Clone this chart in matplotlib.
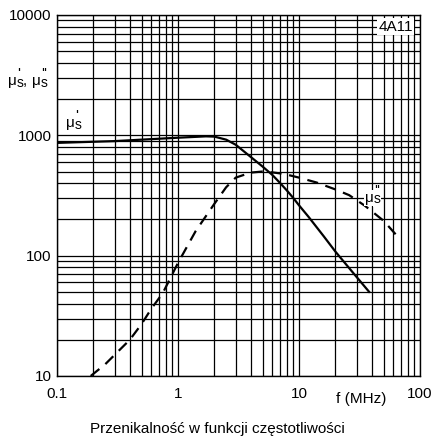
import numpy as np
import matplotlib.pyplot as plt
from matplotlib.ticker import FixedLocator, LogLocator, NullFormatter

plt.rcParams['font.family'] = ['Liberation Sans', 'DejaVu Sans']

# przenikalność rzeczywista mu'_s
f_re = [0.1, 0.3, 1.0, 1.7, 2.0, 2.5, 3.0, 4.0, 5.0, 6.0, 7.0, 8.0, 9.0, 10,
        12, 16, 20, 28, 38]
mu_re = [865, 895, 955, 980, 975, 920, 835, 660, 550, 470, 400, 345, 300, 262,
         210, 145, 108, 72, 50]

# przenikalność urojona mu''_s
f_im = [0.19, 0.25, 0.3, 0.4, 0.5, 0.6, 0.75, 1.0, 1.4, 2.0, 2.5, 3.0, 4.0,
        5.0, 6.0, 7.5, 10, 14, 20, 26, 35, 50, 65]
mu_im = [10, 12.5, 15, 20, 27, 36, 49, 87, 160, 270, 370, 445, 490,
         500, 492, 478, 445, 405, 355, 318, 260, 195, 145]

x_ticks = [0.1, 1, 10, 100]
x_labels = ['0.1', '1', '10', '100']
y_ticks = [10, 100, 1000, 10000]
y_labels = ['10', '100', '1000', '10000']


def mu_label(ax, x, y, primes, trans, dx=0, bg=False):
    # mu z primami u góry i indeksem s na dole
    box = dict(facecolor='white', edgecolor='none', pad=0.5) if bg else None
    kw = dict(xycoords=trans, textcoords='offset points', va='baseline',
              zorder=5, annotation_clip=False)
    ax.annotate('μ', xy=(x, y), xytext=(dx, 0), fontsize=11, bbox=box, **kw)
    ax.annotate('s', xy=(x, y), xytext=(dx + 6.4, -1.2), fontsize=10, bbox=box, **kw)
    ax.annotate(primes, xy=(x, y), xytext=(dx + 6.6, 5.2), fontsize=11, **kw)


fig = plt.figure(figsize=(4.35, 4.4), dpi=100)
ax = fig.add_axes([0.131, 0.1455, 0.8345, 0.8205])

ax.set_xscale('log')
ax.set_yscale('log')
ax.set_xlim(0.1, 100)
ax.set_ylim(10, 10000)

ax.xaxis.set_major_locator(FixedLocator(x_ticks))
ax.yaxis.set_major_locator(FixedLocator(y_ticks))
ax.xaxis.set_minor_locator(LogLocator(base=10, subs=np.arange(2, 10)))
ax.yaxis.set_minor_locator(LogLocator(base=10, subs=np.arange(2, 10)))
ax.xaxis.set_minor_formatter(NullFormatter())
ax.yaxis.set_minor_formatter(NullFormatter())
ax.set_xticklabels(x_labels, fontsize=11)
ax.set_yticklabels(y_labels, fontsize=11)
ax.tick_params(which='both', length=0)
ax.tick_params(axis='x', pad=8)
ax.tick_params(axis='y', pad=4)

ax.grid(which='both', color='black', linewidth=0.9)
for sp in ax.spines.values():
    sp.set_linewidth(1.0)

ax.plot(f_re, mu_re, color='black', linewidth=1.6, zorder=3)
ax.plot(f_im, mu_im, color='black', linewidth=1.6, linestyle=(0, (5, 3.5)), zorder=3)

mu_label(ax, 0.118, 1170, "'", ax.transData, bg=True)
mu_label(ax, 35, 280, "''", ax.transData, bg=True)
ax.text(87, 8000, '4A11', fontsize=11, ha='right', va='center', zorder=4,
        bbox=dict(facecolor='white', edgecolor='none', pad=1))

mu_label(ax, 0.018, 0.807, "'", fig.transFigure)
fig.text(0.052, 0.807, ',', fontsize=11, va='baseline')
mu_label(ax, 0.018, 0.807, "''", fig.transFigure, dx=17.5)
fig.text(0.83, 0.085, 'f (MHz)', fontsize=11, ha='center')
fig.text(0.5, 0.015, 'Przenikalność w funkcji częstotliwości', fontsize=11, ha='center')

fig.savefig('out.png', dpi=100, facecolor='white')
